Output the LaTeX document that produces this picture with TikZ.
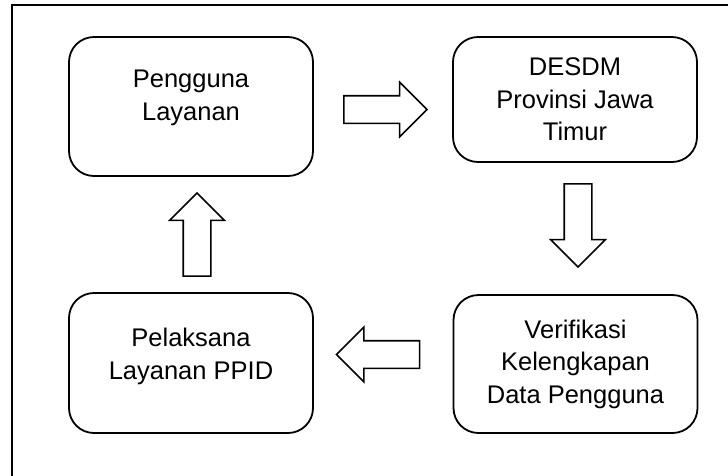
\documentclass[tikz,border=0pt]{standalone}
\usepackage{fontspec}
\setmainfont{Liberation Sans}
\usepackage{tikz}
\usetikzlibrary{shapes}
\usetikzlibrary{shapes.arrows}
\usetikzlibrary{positioning}
\usetikzlibrary{calc}

\begin{document}
\begin{tikzpicture}[x=1pt, y=1pt,
	every node/.style={font=\fontsize{25.5}{32.5}\selectfont, align=center},
	box/.style={draw, line width=1.8pt, rounded corners=25pt, minimum width=244pt},
	blk/.style={draw, single arrow, line width=1.6pt, minimum height=83pt, minimum width=53pt,
		single arrow head extend=13.5pt, single arrow head indent=0pt, inner xsep=0pt, inner ysep=13pt,
		text height=0pt, text depth=0pt, shape border uses incircle=false}]
			\useasboundingbox (0,0) rectangle (728,-475);
			% frame
			\draw[line width=2.6pt] (12,-476) |- (729,-5);
			% boxes
			\node[box, minimum height=139pt] (b1) at (191, -106.5) {Pengguna\\Layanan\\[-10pt]\mbox{}};
			\node[box, minimum height=125pt] (b2) at (575, -99.5) {DESDM\\Provinsi Jawa\\Timur};
			\node[box, minimum height=138pt] (b4) at (575.5, -364) {Verifikasi\\Kelengkapan\\Data Pengguna};
			\node[box, minimum height=140pt] (b3) at (191, -363) {Pelaksana\\Layanan PPID\\[-14pt]\mbox{}};
			% arrows
			\node[blk] (a12) at (378.5, -109.5) {};
			\node[blk, rotate=-90] (a24) at (578, -218.5) {};
			\node[blk, rotate=180] (a43) at (385, -354.5) {};
			\node[blk, rotate=90] (a31) at (197, -241.5) {};
		\end{tikzpicture}
\end{document}
